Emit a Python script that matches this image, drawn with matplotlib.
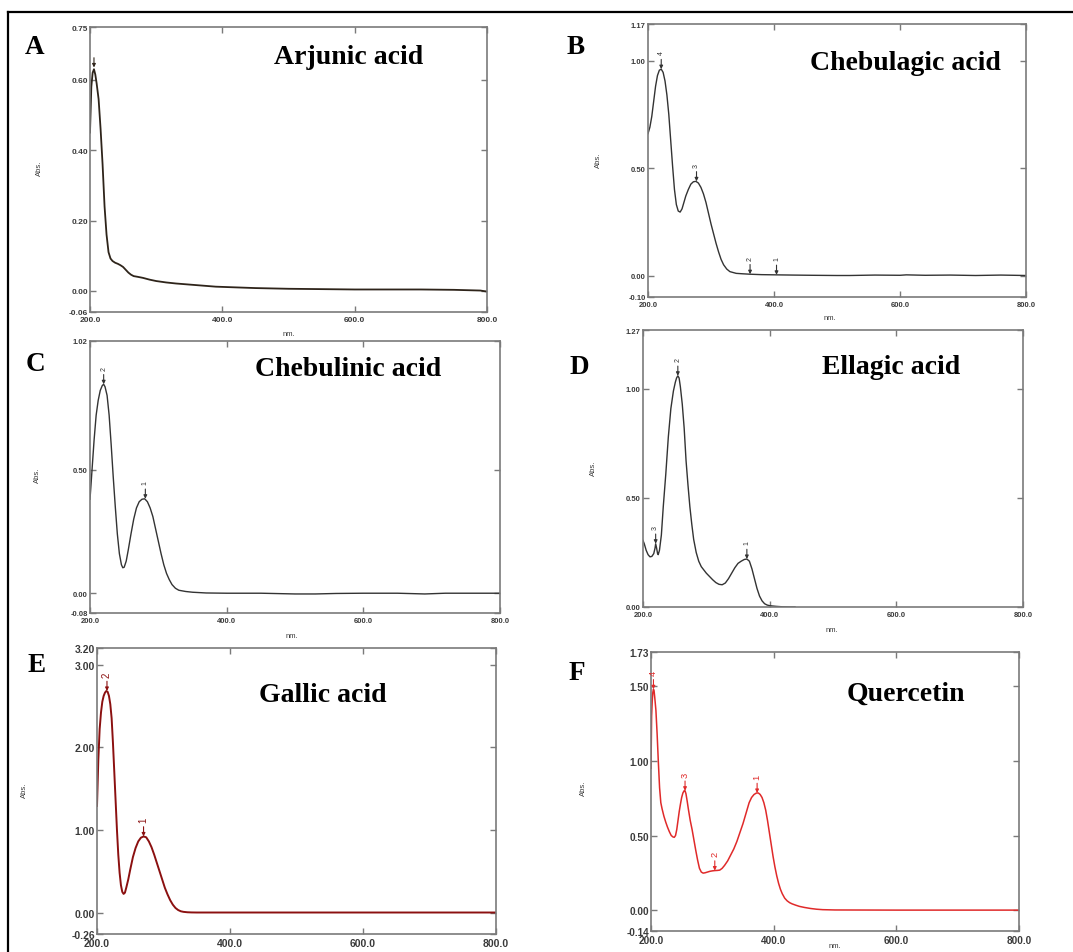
import matplotlib
matplotlib.use("Agg")
import matplotlib.pyplot as plt
from matplotlib.lines import Line2D

W, H = 1073, 953

# ---------------- data ----------------
# A: Arjunic acid
a_nm = [200, 202, 204, 206, 208, 210, 213, 216, 219, 222, 225, 228, 231, 234, 238, 242, 246, 250,
        254, 258, 262, 266, 272, 280, 290, 300, 315, 330, 350, 370, 390, 420, 450, 500, 550, 600,
        650, 700, 750, 790, 800]
a_abs = [0.45, 0.58, 0.62, 0.63, 0.615, 0.59, 0.545, 0.46, 0.36, 0.24, 0.16, 0.11, 0.092, 0.085,
         0.080, 0.077, 0.073, 0.068, 0.060, 0.052, 0.046, 0.042, 0.040, 0.037, 0.032, 0.028, 0.024,
         0.021, 0.018, 0.015, 0.012, 0.010, 0.008, 0.006, 0.005, 0.004, 0.004, 0.004, 0.003, 0.001,
         -0.002]
a_peak_nm = [206]
a_peak_abs = [0.635]
a_peak_lbl = [""]

# B: Chebulagic acid
b_nm = [200, 203, 206, 209, 212, 215, 218, 221, 224, 227, 230, 233, 236, 239, 242, 245, 248, 251,
        254, 257, 260, 264, 268, 272, 276, 280, 284, 288, 292, 296, 300, 304, 308, 312, 316, 320,
        325, 330, 340, 350, 362, 380, 404, 430, 460, 500, 520, 560, 600, 610, 640, 680, 720, 760, 800]
b_abs = [0.66, 0.69, 0.74, 0.81, 0.88, 0.93, 0.955, 0.96, 0.945, 0.905, 0.84, 0.75, 0.63, 0.51,
         0.40, 0.33, 0.30, 0.295, 0.31, 0.34, 0.37, 0.40, 0.425, 0.436, 0.438, 0.43, 0.41, 0.38,
         0.34, 0.29, 0.24, 0.195, 0.15, 0.11, 0.075, 0.05, 0.03, 0.018, 0.010, 0.008, 0.006, 0.004,
         0.003, 0.002, 0.001, 0.000, 0.000, 0.002, 0.001, 0.003, 0.001, 0.002, 0.000, 0.002, 0.000]
b_peak_nm = [221, 277, 362, 404]
b_peak_abs = [0.96, 0.438, 0.006, 0.003]
b_peak_lbl = ["4", "3", "2", "1"]

# C: Chebulinic acid
c_nm = [200, 203, 206, 209, 212, 215, 218, 220, 222, 225, 228, 231, 234, 237, 240, 243, 246, 248,
        250, 253, 256, 260, 264, 268, 272, 276, 280, 284, 288, 292, 296, 300, 304, 308, 312, 316,
        320, 325, 330, 340, 350, 370, 400, 450, 500, 530, 560, 600, 650, 690, 720, 800]
c_abs = [0.38, 0.50, 0.62, 0.72, 0.78, 0.82, 0.84, 0.845, 0.835, 0.80, 0.72, 0.60, 0.47, 0.35,
         0.24, 0.16, 0.115, 0.103, 0.105, 0.13, 0.175, 0.24, 0.30, 0.345, 0.37, 0.38, 0.382, 0.37,
         0.345, 0.31, 0.26, 0.21, 0.16, 0.115, 0.08, 0.055, 0.035, 0.02, 0.012, 0.007, 0.004, 0.001,
         0.000, 0.000, -0.003, -0.003, -0.001, 0.000, 0.000, -0.003, 0.000, 0.000]
c_peak_nm = [220, 281]
c_peak_abs = [0.845, 0.382]
c_peak_lbl = ["2", "1"]

# D: Ellagic acid
d_nm = [200, 202, 205, 208, 211, 214, 217, 219, 220, 221.5, 223, 224, 226, 229, 232, 236, 240, 244,
        248, 251, 253, 255, 257, 259, 262, 265, 268, 271, 274, 277, 280, 284, 288, 292, 296, 300,
        305, 310, 315, 320, 325, 330, 335, 340, 345, 350, 355, 360, 364, 368, 372, 376, 380, 384,
        388, 392, 396, 400, 410, 420, 430, 440]
d_abs = [0.305, 0.29, 0.26, 0.24, 0.23, 0.232, 0.245, 0.27, 0.29, 0.27, 0.245, 0.24, 0.26, 0.33,
         0.46, 0.61, 0.78, 0.91, 0.99, 1.03, 1.05, 1.06, 1.05, 1.01, 0.93, 0.82, 0.67, 0.56, 0.46,
         0.38, 0.31, 0.25, 0.21, 0.185, 0.17, 0.155, 0.14, 0.125, 0.112, 0.104, 0.102, 0.11, 0.13,
         0.155, 0.18, 0.20, 0.21, 0.218, 0.22, 0.21, 0.175, 0.13, 0.085, 0.05, 0.028, 0.015, 0.009,
         0.006, 0.003, 0.001, 0.000, 0.000]
d_peak_nm = [220, 255, 364]
d_peak_abs = [0.29, 1.06, 0.22]
d_peak_lbl = ["3", "2", "1"]

# E: Gallic acid
e_nm = [200, 202, 204, 206, 208, 210, 212, 214, 216, 218, 220, 222, 224, 226, 228, 230, 232, 234,
        236, 238, 240, 242, 244, 247, 250, 254, 258, 262, 266, 270, 274, 278, 282, 286, 290, 294,
        298, 302, 306, 310, 314, 318, 322, 326, 330, 336, 342, 350, 400, 500, 600, 700, 800]
e_abs = [1.29, 1.85, 2.22, 2.42, 2.55, 2.62, 2.66, 2.68, 2.67, 2.62, 2.52, 2.35, 2.05, 1.70, 1.35,
         1.00, 0.70, 0.48, 0.33, 0.25, 0.225, 0.24, 0.30, 0.40, 0.52, 0.67, 0.78, 0.86, 0.905, 0.92,
         0.91, 0.86, 0.79, 0.70, 0.60, 0.50, 0.40, 0.30, 0.22, 0.15, 0.095, 0.055, 0.03, 0.015,
         0.008, 0.003, 0.001, 0.0, 0.0, 0.0, 0.0, 0.0, 0.0]
e_peak_nm = [215, 270]
e_peak_abs = [2.68, 0.92]
e_peak_lbl = ["2", "1"]

# F: Quercetin
f_nm = [200, 201, 202, 203, 204, 205, 206, 208, 210, 212, 214, 216, 218, 221, 224, 227, 230, 233,
        236, 238, 240, 242, 244, 246, 248, 250, 252, 254, 255.5, 257, 259, 261, 264, 267, 270, 273,
        276, 279, 282, 285, 288, 292, 296, 300, 304, 308, 312, 316, 320, 325, 330, 335, 340, 345,
        350, 355, 360, 364, 368, 372, 375, 378, 381, 384, 387, 390, 393, 396, 399, 402, 405, 408,
        411, 414, 418, 422, 426, 430, 436, 442, 450, 460, 470, 480, 500, 600, 700, 800]
f_abs = [0.95, 1.30, 1.40, 1.46, 1.48, 1.47, 1.43, 1.34, 1.18, 0.99, 0.82, 0.72, 0.68, 0.63, 0.59,
         0.555, 0.525, 0.50, 0.49, 0.488, 0.50, 0.54, 0.60, 0.66, 0.71, 0.755, 0.785, 0.80, 0.80,
         0.78, 0.73, 0.675, 0.60, 0.54, 0.47, 0.40, 0.335, 0.28, 0.255, 0.248, 0.25, 0.255, 0.26,
         0.263, 0.265, 0.266, 0.268, 0.28, 0.30, 0.33, 0.37, 0.41, 0.46, 0.52, 0.58, 0.65, 0.72,
         0.755, 0.775, 0.785, 0.785, 0.775, 0.755, 0.72, 0.67, 0.60, 0.52, 0.44, 0.36, 0.29, 0.23,
         0.18, 0.14, 0.11, 0.08, 0.062, 0.05, 0.042, 0.033, 0.025, 0.018, 0.011, 0.006, 0.003,
         0.001, 0.0, 0.0, 0.0]
f_peak_nm = [204, 255.5, 304, 373]
f_peak_abs = [1.48, 0.80, 0.265, 0.785]
f_peak_lbl = ["4", "3", "2", "1"]

x_ticks = [200, 400, 600, 800]
a_yticks = [0.75, 0.60, 0.40, 0.20, 0.00, -0.06]
b_yticks = [1.17, 1.00, 0.50, 0.00, -0.10]
c_yticks = [1.02, 0.50, 0.00, -0.08]
d_yticks = [1.27, 1.00, 0.50, 0.00]
e_yticks = [3.20, 3.00, 2.00, 1.00, 0.00, -0.26]
f_yticks = [1.73, 1.50, 1.00, 0.50, 0.00, -0.14]

names = ["Arjunic acid", "Chebulagic acid", "Chebulinic acid", "Ellagic acid", "Gallic acid", "Quercetin"]
letters = ["A", "B", "C", "D", "E", "F"]

# ---------------- layout / style ----------------
panels = [
    dict(x=a_nm, y=a_abs, px=a_peak_nm, py=a_peak_abs, pl=a_peak_lbl, yt=a_yticks,
         box=(90, 487, 28, 313), color="#2e241a", lw=1.3, fs=6.0,
         let=(35, 48), tit=(349, 58), absp=(39, 168), nmp=(289, 334)),
    dict(x=b_nm, y=b_abs, px=b_peak_nm, py=b_peak_abs, pl=b_peak_lbl, yt=b_yticks,
         box=(648, 1026, 25, 298), color="#333333", lw=1.0, fs=5.5,
         let=(576, 47), tit=(905, 63), absp=(598, 160), nmp=(830, 319)),
    dict(x=c_nm, y=c_abs, px=c_peak_nm, py=c_peak_abs, pl=c_peak_lbl, yt=c_yticks,
         box=(90, 500, 342, 614), color="#333333", lw=1.0, fs=5.5,
         let=(35, 365), tit=(348, 370), absp=(37, 475), nmp=(292, 636)),
    dict(x=d_nm, y=d_abs, px=d_peak_nm, py=d_peak_abs, pl=d_peak_lbl, yt=d_yticks,
         box=(643, 1023, 331, 608), color="#333333", lw=1.0, fs=5.5,
         let=(579, 367), tit=(891, 367), absp=(593, 468), nmp=(832, 630)),
    dict(x=e_nm, y=e_abs, px=e_peak_nm, py=e_peak_abs, pl=e_peak_lbl, yt=e_yticks,
         box=(97, 496, 649, 935), color="#8b1010", lw=1.4, fs=7.5,
         let=(37, 665), tit=(323, 696), absp=(24, 790), nmp=None),
    dict(x=f_nm, y=f_abs, px=f_peak_nm, py=f_peak_abs, pl=f_peak_lbl, yt=f_yticks,
         box=(651, 1019, 653, 932), color="#e02a2a", lw=1.1, fs=7.2,
         let=(577, 673), tit=(906, 694), absp=(583, 788), nmp=(835, 947)),
]

plt.rcParams["font.family"] = ["Liberation Sans", "DejaVu Sans"]
fig = plt.figure(figsize=(W / 100, H / 100), dpi=100)
fig.patch.set_facecolor("white")

SPINE = "#7a7a7a"
TXT = "#3a3a3a"

for i, p in enumerate(panels):
    l, r, t, b = p["box"]
    ax = fig.add_axes([l / W, 1 - b / H, (r - l) / W, (b - t) / H])
    ax.plot(p["x"], p["y"], color=p["color"], lw=p["lw"], solid_joinstyle="round")
    yt = p["yt"]
    ax.set_xlim(200, 800)
    ax.set_ylim(min(yt), max(yt))
    ax.set_xticks(x_ticks)
    ax.set_xticklabels([f"{v:.1f}" for v in x_ticks])
    ax.set_yticks(yt)
    ax.set_yticklabels([f"{v:.2f}" for v in yt])
    ax.tick_params(direction="in", length=4, width=1.0, color=SPINE, top=True, right=True,
                   labelsize=p["fs"], labelcolor=TXT)
    ax.tick_params(axis="y", pad=1.5)
    ax.tick_params(axis="x", pad=3)
    for lab in ax.get_xticklabels() + ax.get_yticklabels():
        lab.set_fontweight("bold")
    for s in ax.spines.values():
        s.set_color(SPINE)
        s.set_linewidth(1.2)

    # peak markers
    for pxv, pyv, lab in zip(p["px"], p["py"], p["pl"]):
        ax.annotate("", xy=(pxv, pyv), xytext=(0, 7), textcoords="offset points",
                    arrowprops=dict(arrowstyle="-|>", color=p["color"], lw=0.8,
                                    mutation_scale=5, shrinkA=0, shrinkB=0))
        if lab:
            ax.annotate(lab, xy=(pxv, pyv), xytext=(0, 12), textcoords="offset points",
                        rotation=90, ha="center", va="center", fontsize=p["fs"] - 0.5,
                        color=p["color"])

    fig.text(p["let"][0] / W, 1 - p["let"][1] / H, letters[i], family="Liberation Serif",
             fontweight="bold", fontsize=19.5, ha="center", va="center", color="black")
    fig.text(p["tit"][0] / W, 1 - p["tit"][1] / H, names[i], family="Liberation Serif",
             fontweight="bold", fontsize=20, ha="center", va="center", color="black")
    fig.text(p["absp"][0] / W, 1 - p["absp"][1] / H, "Abs.", rotation=90, fontsize=5.5,
             ha="center", va="center", color=TXT)
    if p["nmp"] is not None:
        fig.text(p["nmp"][0] / W, 1 - p["nmp"][1] / H, "nm.", fontsize=5.5,
                 ha="center", va="center", color=TXT)

# outer frame (top and left edges)
fig.add_artist(Line2D([8 / W, 1.0], [1 - 13 / H, 1 - 13 / H], transform=fig.transFigure,
                      color="black", lw=1.6))
fig.add_artist(Line2D([8 / W, 8 / W], [1 - 13 / H, 0.0], transform=fig.transFigure,
                      color="black", lw=1.6))

fig.savefig("out.png", dpi=100)
